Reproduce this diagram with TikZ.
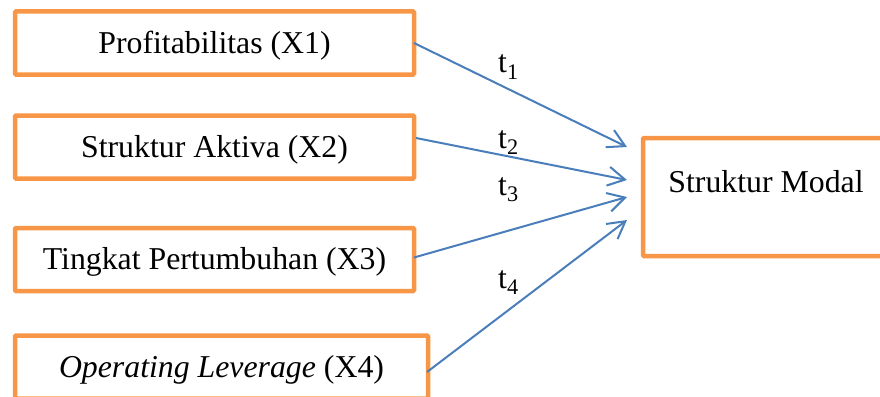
\documentclass[tikz,border=0pt]{standalone}
\usepackage{fontspec}
\setmainfont{Liberation Serif}
\usetikzlibrary{arrows.meta,calc}
\definecolor{boxorange}{HTML}{F79646}
\definecolor{arrowblue}{HTML}{4A7EBB}
\begin{document}
\begin{tikzpicture}[x=1pt,y=-1pt,
  every node/.style={font=\fontsize{31.8}{38}\selectfont},
  varbox/.style={draw=boxorange,line width=4.5pt,rounded corners=1pt,inner sep=0pt,outer sep=0pt,
    minimum width=399pt,minimum height=63pt,text height=22pt,text depth=2pt},
  depbox/.style={draw=boxorange,line width=4.5pt,rounded corners=1pt,inner sep=0pt,outer sep=0pt,
    minimum width=246pt,minimum height=118pt,text height=22pt,text depth=32pt},
  link/.style={draw=arrowblue,line width=2pt,-{Straight Barb[length=17pt,width=19pt,line width=2pt]}},
  lbl/.style={inner sep=0pt,anchor=base west}]
\useasboundingbox (0,0) rectangle (880,396);
\node[varbox] (x1) at (214.5,43) {Profitabilitas (X1)};
\node[varbox] (x2) at (214.5,147) {Struktur Aktiva (X2)};
\node[varbox] (x3) at (214.5,259.5) {Tingkat Pertumbuhan (X3)};
\node[varbox,minimum width=413pt] (x4) at (221.5,367) {\textit{Operating Leverage} (X4)};
\node[depbox] (y) at (766,197) {Struktur Modal};
\coordinate (s2) at ($(x2.east)+(2,-9)$);
\coordinate (s3) at ($(x3.east)+(0,-2)$);
\coordinate (s4) at ($(x4.east)+(-1,5)$);
\coordinate (e1) at ($(y.west)+(-16,-50)$);
\coordinate (e2) at ($(y.west)+(-16,-17)$);
\coordinate (e3) at ($(y.west)+(-16,0)$);
\coordinate (e4) at ($(y.west)+(-16,23)$);
\draw[link] (x1.east) -- (e1);
\draw[link] (s2) -- (e2);
\draw[link] (s3) -- (e3);
\draw[link] (s4) -- (e4);
\node[lbl] (t1) at (498,73) {t\textsubscript{1}};
\node[lbl] (t2) at (498,148) {t\textsubscript{2}};
\node[lbl] (t3) at (498,195) {t\textsubscript{3}};
\node[lbl] (t4) at (498,288) {t\textsubscript{4}};
\end{tikzpicture}
\end{document}
